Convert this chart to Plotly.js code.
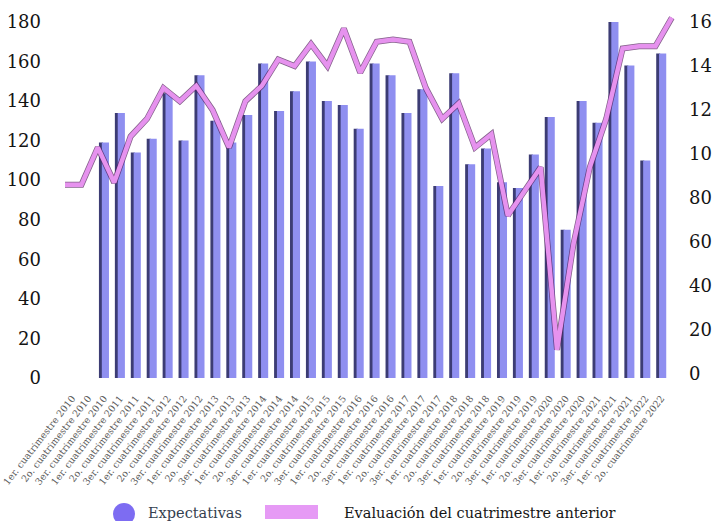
<!DOCTYPE html>
<html>
<head>
<meta charset="utf-8">
<script src="https://cdn.plot.ly/plotly-3.0.1.min.js"></script>
<style>
  html, body { margin: 0; padding: 0; background: #ffffff; }
  #chart { width: 712px; height: 521px; }
</style>
</head>
<body>
<div id="chart"></div>
<script>
// Four-monthly periods (cuatrimestres)
const periodos = [
  "1er. cuatrimestre 2010", "2o. cuatrimestre 2010", "3er. cuatrimestre 2010",
  "1er. cuatrimestre 2011", "2o. cuatrimestre 2011", "3er. cuatrimestre 2011",
  "1er. cuatrimestre 2012", "2o. cuatrimestre 2012", "3er. cuatrimestre 2012",
  "1er. cuatrimestre 2013", "2o. cuatrimestre 2013", "3er. cuatrimestre 2013",
  "1er. cuatrimestre 2014", "2o. cuatrimestre 2014", "3er. cuatrimestre 2014",
  "1er. cuatrimestre 2015", "2o. cuatrimestre 2015", "3er. cuatrimestre 2015",
  "1er. cuatrimestre 2016", "2o. cuatrimestre 2016", "3er. cuatrimestre 2016",
  "1er. cuatrimestre 2017", "2o. cuatrimestre 2017", "3er. cuatrimestre 2017",
  "1er. cuatrimestre 2018", "2o. cuatrimestre 2018", "3er. cuatrimestre 2018",
  "1er. cuatrimestre 2019", "2o. cuatrimestre 2019", "3er. cuatrimestre 2019",
  "1er. cuatrimestre 2020", "2o. cuatrimestre 2020", "3er. cuatrimestre 2020",
  "1er. cuatrimestre 2021", "2o. cuatrimestre 2021", "3er. cuatrimestre 2021",
  "1er. cuatrimestre 2022", "2o. cuatrimestre 2022"
];

// Expectativas (left axis) - no survey for the first two periods
const expectativas = [
  null, null, 119,
  134, 114, 121,
  144, 120, 153,
  130, 119, 133,
  159, 135, 145,
  160, 140, 138,
  126, 159, 153,
  134, 146, 97,
  154, 108, 116,
  99, 96, 113,
  132, 75, 140,
  129, 180, 158,
  110, 164
];

// Evaluación del cuatrimestre anterior (right axis)
const evaluacion = [
  86, 86, 103,
  87, 108, 116,
  130, 124, 131,
  120, 103, 124,
  131, 143, 140,
  150, 140, 157,
  137, 151, 152,
  151, 130, 116,
  123, 103, 109,
  72, 83, 94,
  11, 59, 94,
  116, 148, 149,
  149, 162
];

const leftTicks = [0, 20, 40, 60, 80, 100, 120, 140, 160, 180];
const rightTicks = [0, 20, 40, 60, 80, 100, 120, 140, 160];

const serif = "DejaVu Serif, Liberation Serif, serif";
const numFont = { family: serif, size: 18, color: "#141414" };

const traces = [
  // dark left face of each column
  {
    type: "bar", x: periodos, y: expectativas, xaxis: "x", yaxis: "y",
    width: 0.25, offset: -0.32,
    marker: { color: "#3c3c74" },
    hoverinfo: "skip", showlegend: false
  },
  // lit face of each column
  {
    type: "bar", x: periodos, y: expectativas, xaxis: "x", yaxis: "y",
    name: "Expectativas",
    width: 0.45, offset: -0.14,
    marker: { color: "#8f8ff0" },
    showlegend: false
  },
  // dark edge under the evaluation line
  {
    type: "scatter", mode: "lines", x: periodos, y: evaluacion, xaxis: "x2", yaxis: "y2",
    line: { color: "rgba(80,30,90,0.7)", width: 6 },
    hoverinfo: "skip", showlegend: false
  },
  {
    type: "scatter", mode: "lines", x: periodos, y: evaluacion, xaxis: "x2", yaxis: "y2",
    name: "Evaluación del cuatrimestre anterior",
    line: { color: "#e692ee", width: 4.5 },
    showlegend: false
  }
];

// plot area: x 50..682, y 15..390 (px)
const W = 632, H = 375;
const px = v => (v - 50) / W;
const py = v => (390 - v) / H;

const layout = {
  width: 712, height: 521,
  margin: { l: 50, r: 30, t: 15, b: 131 },
  paper_bgcolor: "#ffffff", plot_bgcolor: "#ffffff",
  barmode: "overlay",
  showlegend: false,
  xaxis: {
    type: "category", categoryorder: "array", categoryarray: periodos,
    range: [-1.394, 38.3],
    showgrid: false, zeroline: false, showline: false, ticks: "",
    tickangle: -52,
    tickfont: { family: serif, size: 9.5, color: "#5a5a5a" }
  },
  xaxis2: {
    type: "category", categoryorder: "array", categoryarray: periodos,
    overlaying: "x", range: [-0.915, 37.62],
    visible: false
  },
  yaxis: {
    range: [-6.07, 183.5],
    tickmode: "array", tickvals: leftTicks,
    showgrid: false, zeroline: false, showline: false, ticks: "",
    ticklabelstandoff: 8,
    tickfont: numFont
  },
  yaxis2: {
    overlaying: "y", side: "right",
    range: [-7.27, 163.2],
    tickmode: "array", tickvals: rightTicks,
    showgrid: false, zeroline: false, showline: false, ticks: "",
    ticklabelstandoff: 6,
    tickfont: numFont
  },
  shapes: [
    { type: "circle", xref: "paper", yref: "paper",
      x0: px(113), x1: px(135), y0: py(525), y1: py(503),
      fillcolor: "#7d6cf2", line: { width: 0 } },
    { type: "rect", xref: "paper", yref: "paper",
      x0: px(265), x1: px(318), y0: py(519), y1: py(505),
      fillcolor: "#e69af5", line: { width: 0 } }
  ],
  annotations: [
    { xref: "paper", yref: "paper", x: px(146), y: py(513),
      xanchor: "left", yanchor: "middle", showarrow: false,
      text: "Expectativas",
      font: { family: serif, size: 14.5, color: "#34414f" } },
    { xref: "paper", yref: "paper", x: px(342), y: py(513),
      xanchor: "left", yanchor: "middle", showarrow: false,
      text: "Evaluación del cuatrimestre anterior",
      font: { family: serif, size: 14.5, color: "#151515" } }
  ]
};

Plotly.newPlot("chart", traces, layout, { staticPlot: true, displayModeBar: false });
</script>
</body>
</html>
